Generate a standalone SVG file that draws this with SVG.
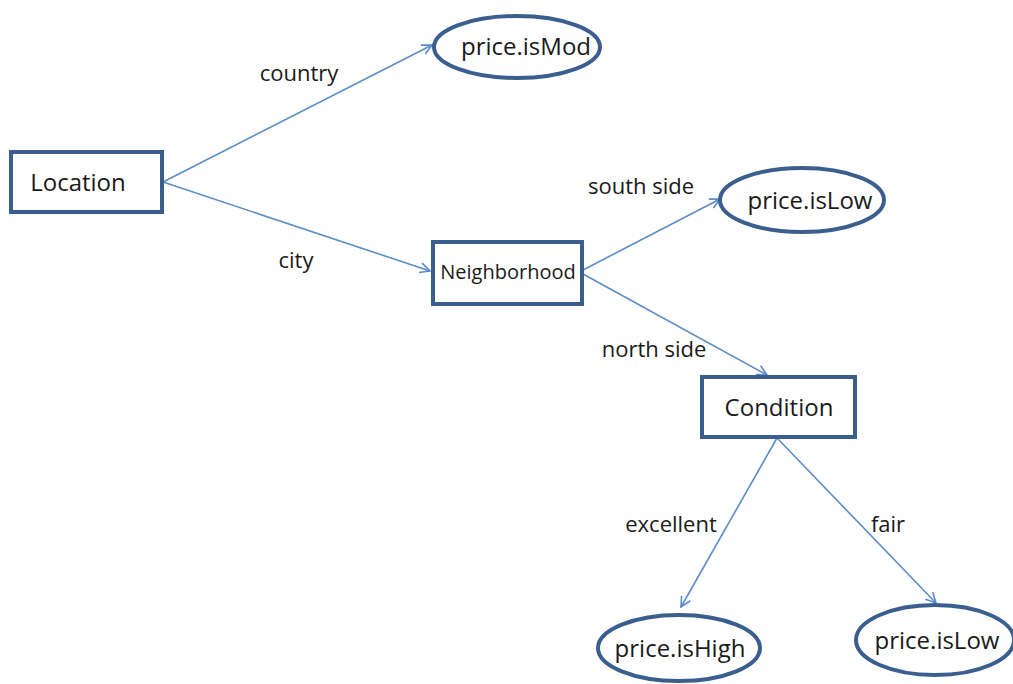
<svg xmlns="http://www.w3.org/2000/svg" width="1013" height="684" viewBox="0 0 1013 684">
  <style>
    .box { fill: #ffffff; stroke: #3a5f8f; stroke-width: 4; }
    .term { fill: #ffffff; stroke: #3a5f8f; stroke-width: 4; }
    .edge { fill: none; stroke: #5b8cc8; stroke-width: 1.6; marker-end: url(#arrow); }
    text { font-family: "Open Sans", "Liberation Sans", sans-serif; fill: #1a1a1a; }
    .node { font-size: 24px; text-anchor: middle; dominant-baseline: central; }
    .small { font-size: 20px; }
    .lbl { font-size: 22px; text-anchor: middle; }
  </style>
  <defs>
    <marker id="arrow" viewBox="0 0 12 12" refX="11" refY="6" markerWidth="12" markerHeight="12" markerUnits="userSpaceOnUse" orient="auto">
      <path d="M1,1 L11,6 L1,11" fill="none" stroke="#5b8cc8" stroke-width="1.6"/>
    </marker>
  </defs>
  <rect width="1013" height="684" fill="#ffffff"/>

  <g id="connectors">
    <line class="edge" x1="163" y1="182" x2="432" y2="45"/>
    <line class="edge" x1="163" y1="182" x2="430" y2="271"/>
    <line class="edge" x1="583" y1="270" x2="720" y2="199"/>
    <line class="edge" x1="583" y1="274" x2="767" y2="375"/>
    <line class="edge" x1="777" y1="438" x2="681" y2="607"/>
    <line class="edge" x1="777" y1="438" x2="936" y2="603"/>
    <text class="lbl" x="299" y="81">country</text>
    <text class="lbl" x="296" y="268">city</text>
    <text class="lbl" x="641" y="194">south side</text>
    <text class="lbl" x="654" y="357">north side</text>
    <text class="lbl" x="671" y="532">excellent</text>
    <text class="lbl" x="888" y="532">fair</text>
  </g>

  <g id="location">
    <rect class="box" x="11" y="152" width="151" height="60"/>
    <text class="node" x="78" y="181">Location</text>
  </g>
  <g id="neighborhood">
    <rect class="box" x="433" y="242" width="149" height="62"/>
    <text class="node small" x="508" y="271">Neighborhood</text>
  </g>
  <g id="condition">
    <rect class="box" x="702" y="377" width="153" height="60"/>
    <text class="node" x="779" y="406">Condition</text>
  </g>
  <g id="price-is-mod">
    <ellipse class="term" cx="517" cy="47" rx="83" ry="31"/>
    <text class="node" x="526" y="45">price.isMod</text>
  </g>
  <g id="price-is-low-south">
    <ellipse class="term" cx="802" cy="200" rx="82" ry="32"/>
    <text class="node" x="810" y="199">price.isLow</text>
  </g>
  <g id="price-is-high">
    <ellipse class="term" cx="679" cy="648" rx="81" ry="33"/>
    <text class="node" x="680" y="647">price.isHigh</text>
  </g>
  <g id="price-is-low-fair">
    <ellipse class="term" cx="935" cy="640" rx="79" ry="35"/>
    <text class="node" x="937" y="639">price.isLow</text>
  </g>
</svg>
